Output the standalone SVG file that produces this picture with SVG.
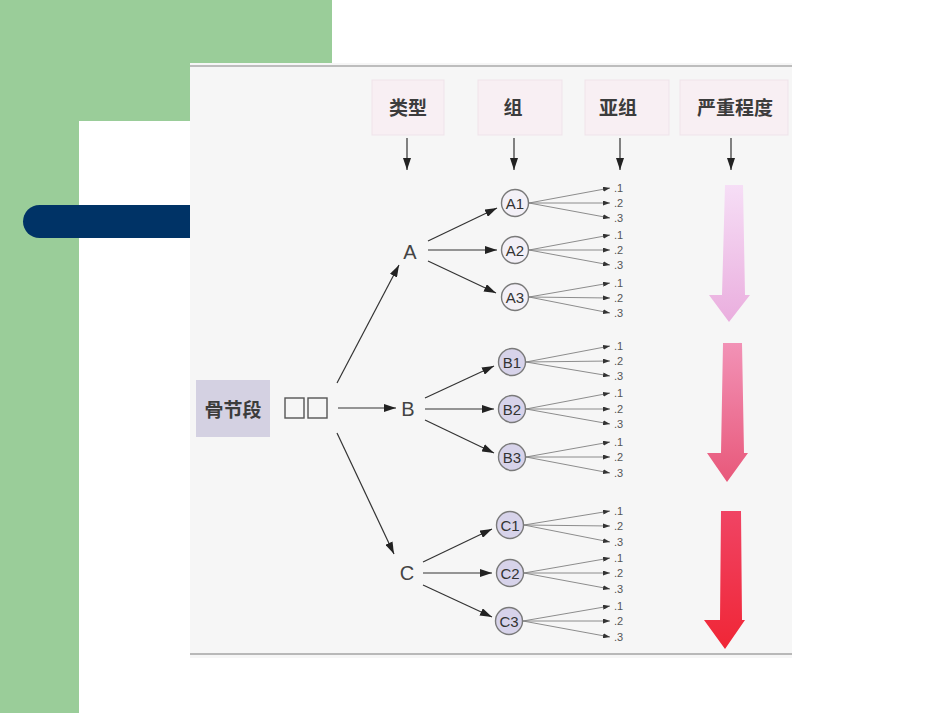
<svg xmlns="http://www.w3.org/2000/svg" width="950" height="713" viewBox="0 0 950 713">
<style>
.hdr{font-family:"Noto Sans CJK SC","Liberation Sans",sans-serif;font-size:19px;font-weight:bold;fill:#3c3c3c;text-anchor:middle;dominant-baseline:central}
.hbox{fill:#f8eff3;stroke:#efe3ea;stroke-width:1}
.lt{font-family:"Liberation Sans",sans-serif;font-size:20px;fill:#444;text-anchor:middle;dominant-baseline:central}
.cl{font-family:"Liberation Sans",sans-serif;font-size:15px;fill:#333;text-anchor:middle;dominant-baseline:central}
.sl{font-family:"Liberation Sans",sans-serif;font-size:11px;fill:#555;dominant-baseline:central}
.ca{fill:#f3f0f7;stroke:#7a7a7a;stroke-width:1.4}
.cb{fill:#d7d3ea;stroke:#7a7a7a;stroke-width:1.4}
.ml{stroke:#333;stroke-width:1.2;fill:none;marker-end:url(#ah)}
.sa{stroke:#808080;stroke-width:0.9;fill:none;marker-end:url(#sh)}
.ha{stroke:#333;stroke-width:1.2;fill:none;marker-end:url(#ah)}
</style>
<defs>
<marker id="ah" viewBox="0 0 12 8" refX="12" refY="4" markerWidth="12" markerHeight="8" orient="auto" markerUnits="userSpaceOnUse"><path d="M0,0 L12,4 L0,8 z" fill="#222"/></marker>
<marker id="sh" viewBox="0 0 7 5" refX="7" refY="2.5" markerWidth="7" markerHeight="5" orient="auto" markerUnits="userSpaceOnUse"><path d="M0,0 L7,2.5 L0,5 z" fill="#333"/></marker>
<linearGradient id="g1" x1="0" y1="0" x2="0" y2="1"><stop offset="0" stop-color="#f6def6"/><stop offset="1" stop-color="#eaaede"/></linearGradient>
<linearGradient id="g2" x1="0" y1="0" x2="0" y2="1"><stop offset="0" stop-color="#f292b6"/><stop offset="1" stop-color="#e8587a"/></linearGradient>
<linearGradient id="g3" x1="0" y1="0" x2="0" y2="1"><stop offset="0" stop-color="#f04464"/><stop offset="1" stop-color="#f02636"/></linearGradient>
</defs>
<rect x="0" y="0" width="950" height="713" fill="#ffffff"/>
<g id="background">
<rect x="0" y="0" width="332" height="121" fill="#9acd99"/>
<rect x="0" y="0" width="79" height="713" fill="#9acd99"/>
<rect x="23" y="205" width="200" height="33" rx="16.5" fill="#003366"/>
<rect x="190" y="63" width="602" height="595" fill="#f6f6f6"/>
<line x1="190" y1="66" x2="792" y2="66" stroke="#bdbdbd" stroke-width="2"/>
<line x1="190" y1="654" x2="792" y2="654" stroke="#b8b8b8" stroke-width="2"/>
</g>
<g id="headers">
<g id="h-type"><rect class="hbox" x="372" y="80" width="72" height="55"/><text class="hdr" x="408" y="106">类型</text></g>
<g id="h-group"><rect class="hbox" x="478" y="80" width="84" height="55"/><text class="hdr" x="513" y="106">组</text></g>
<g id="h-sub"><rect class="hbox" x="585" y="80" width="84" height="55"/><text class="hdr" x="618" y="106">亚组</text></g>
<g id="h-sev"><rect class="hbox" x="680" y="80" width="108" height="55"/><text class="hdr" x="735" y="106">严重程度</text></g>
</g>
<g id="root"><rect x="196" y="380" width="74" height="57" fill="#d4d1e2"/><text class="hdr" x="233" y="408">骨节段</text>
<rect x="285" y="398" width="19" height="20" fill="none" stroke="#555" stroke-width="1.4"/><rect x="308" y="398" width="19" height="20" fill="none" stroke="#555" stroke-width="1.4"/></g>
<g id="A"><text class="lt" x="410" y="252">A</text></g>
<g id="B"><text class="lt" x="408" y="409">B</text></g>
<g id="C"><text class="lt" x="407" y="573">C</text></g>
<g id="A1"><circle class="ca" cx="515" cy="203" r="13.5"/><text class="cl" x="515" y="203">A1</text></g>
<g id="A2"><circle class="ca" cx="515" cy="250" r="13.5"/><text class="cl" x="515" y="250">A2</text></g>
<g id="A3"><circle class="ca" cx="515" cy="297" r="13.5"/><text class="cl" x="515" y="297">A3</text></g>
<g id="B1"><circle class="cb" cx="512" cy="362" r="13.5"/><text class="cl" x="512" y="362">B1</text></g>
<g id="B2"><circle class="cb" cx="512" cy="409" r="13.5"/><text class="cl" x="512" y="409">B2</text></g>
<g id="B3"><circle class="cb" cx="512" cy="457" r="13.5"/><text class="cl" x="512" y="457">B3</text></g>
<g id="C1"><circle class="cb" cx="510" cy="525" r="13.5"/><text class="cl" x="510" y="525">C1</text></g>
<g id="C2"><circle class="cb" cx="510" cy="573" r="13.5"/><text class="cl" x="510" y="573">C2</text></g>
<g id="C3"><circle class="cb" cx="509" cy="621" r="13.5"/><text class="cl" x="509" y="621">C3</text></g>
<g id="sublabels">
<text class="sl" x="614" y="188">.1</text><text class="sl" x="614" y="203">.2</text><text class="sl" x="614" y="218">.3</text>
<text class="sl" x="614" y="235">.1</text><text class="sl" x="614" y="250">.2</text><text class="sl" x="614" y="265">.3</text>
<text class="sl" x="614" y="283">.1</text><text class="sl" x="614" y="298">.2</text><text class="sl" x="614" y="313">.3</text>
<text class="sl" x="614" y="346">.1</text><text class="sl" x="614" y="361">.2</text><text class="sl" x="614" y="376">.3</text>
<text class="sl" x="614" y="393">.1</text><text class="sl" x="614" y="409">.2</text><text class="sl" x="614" y="424">.3</text>
<text class="sl" x="614" y="442">.1</text><text class="sl" x="614" y="457">.2</text><text class="sl" x="614" y="473">.3</text>
<text class="sl" x="614" y="511">.1</text><text class="sl" x="614" y="526">.2</text><text class="sl" x="614" y="542">.3</text>
<text class="sl" x="614" y="558">.1</text><text class="sl" x="614" y="573">.2</text><text class="sl" x="614" y="589">.3</text>
<text class="sl" x="614" y="606">.1</text><text class="sl" x="614" y="621">.2</text><text class="sl" x="614" y="637">.3</text>
</g>
<g id="severity">
<polygon points="725,185 743,185 745,295 750,295 729,322 709,295 722,295" fill="url(#g1)"/>
<polygon points="723,343 742,343 744,453 748,453 727,482 707,453 721,453" fill="url(#g2)"/>
<polygon points="721,511 741,511 742,620 745,620 725,649 704,620 720,620" fill="url(#g3)"/>
</g>
<g id="connectors">
<line class="ha" x1="407" y1="138" x2="407" y2="170"/>
<line class="ha" x1="514" y1="138" x2="514" y2="170"/>
<line class="ha" x1="620" y1="138" x2="620" y2="170"/>
<line class="ha" x1="731" y1="138" x2="731" y2="170"/>
<line class="ml" x1="337" y1="383" x2="399" y2="265"/>
<line class="ml" x1="338" y1="408" x2="396" y2="408"/>
<line class="ml" x1="337" y1="433" x2="394" y2="554"/>
<line class="ml" x1="428" y1="241" x2="497" y2="208"/>
<line class="ml" x1="428" y1="250" x2="497" y2="250"/>
<line class="ml" x1="428" y1="261" x2="496" y2="293"/>
<line class="ml" x1="425" y1="398" x2="494" y2="366"/>
<line class="ml" x1="425" y1="409" x2="494" y2="409"/>
<line class="ml" x1="425" y1="420" x2="494" y2="453"/>
<line class="ml" x1="423" y1="562" x2="492" y2="529"/>
<line class="ml" x1="423" y1="573" x2="492" y2="573"/>
<line class="ml" x1="423" y1="585" x2="492" y2="617"/>
<path class="sa" d="M529,203 L610,188"/><path class="sa" d="M529,203 L610,203"/><path class="sa" d="M529,203 L610,218"/>
<path class="sa" d="M529,250 L610,235"/><path class="sa" d="M529,250 L610,250"/><path class="sa" d="M529,250 L610,265"/>
<path class="sa" d="M529,297 L610,283"/><path class="sa" d="M529,297 L610,298"/><path class="sa" d="M529,297 L610,313"/>
<path class="sa" d="M526,362 L610,346"/><path class="sa" d="M526,362 L610,361"/><path class="sa" d="M526,362 L610,376"/>
<path class="sa" d="M526,409 L610,393"/><path class="sa" d="M526,409 L610,409"/><path class="sa" d="M526,409 L610,424"/>
<path class="sa" d="M526,457 L610,442"/><path class="sa" d="M526,457 L610,457"/><path class="sa" d="M526,457 L610,473"/>
<path class="sa" d="M524,525 L610,511"/><path class="sa" d="M524,525 L610,526"/><path class="sa" d="M524,525 L610,542"/>
<path class="sa" d="M524,573 L610,558"/><path class="sa" d="M524,573 L610,573"/><path class="sa" d="M524,573 L610,589"/>
<path class="sa" d="M523,621 L610,606"/><path class="sa" d="M523,621 L610,621"/><path class="sa" d="M523,621 L610,637"/>
</g>
</svg>
